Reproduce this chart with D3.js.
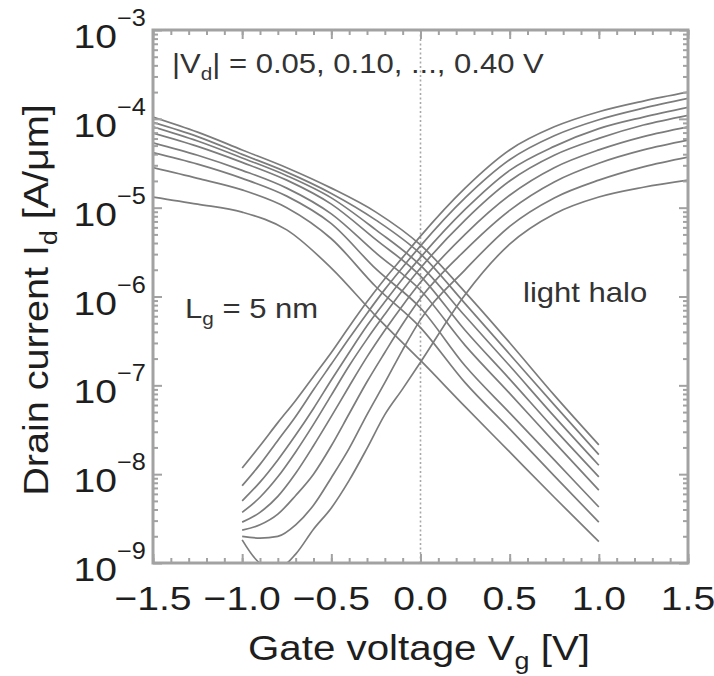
<!DOCTYPE html>
<html><head><meta charset="utf-8">
<script src="https://cdn.jsdelivr.net/npm/d3@7"></script>
<style>body{margin:0;background:#fff;} svg{display:block}</style>
</head><body>
<svg id="chart" width="714" height="676"></svg>
<script>
// Drain voltages |Vd| (V), same order as the curve arrays below
const vdValues = [0.40, 0.35, 0.30, 0.25, 0.20, 0.15, 0.10, 0.05];

// p-type branch (decreasing with Vg): gate voltages (V)
const pVg = [-1.5, -1.25, -1.0, -0.75, -0.5, -0.25, 0, 0.25, 0.5, 0.75, 1.0];
// log10 of drain current (A/um) for each Vd
const pLog10Id = [
  [-3.98, -4.15, -4.35, -4.55, -4.78, -5.05, -5.42, -5.95, -6.52, -7.11, -7.67],
  [-4.04, -4.20, -4.40, -4.60, -4.84, -5.14, -5.52, -6.08, -6.65, -7.22, -7.78],
  [-4.09, -4.25, -4.44, -4.64, -4.89, -5.25, -5.65, -6.22, -6.78, -7.35, -7.90],
  [-4.16, -4.31, -4.49, -4.69, -4.96, -5.36, -5.77, -6.38, -6.93, -7.49, -8.03],
  [-4.27, -4.41, -4.58, -4.78, -5.07, -5.51, -5.93, -6.55, -7.09, -7.64, -8.18],
  [-4.38, -4.51, -4.67, -4.87, -5.18, -5.69, -6.13, -6.78, -7.31, -7.84, -8.37],
  [-4.55, -4.67, -4.80, -5.00, -5.35, -5.89, -6.35, -6.97, -7.49, -8.02, -8.54],
  [-4.88, -4.96, -5.05, -5.25, -5.68, -6.22, -6.72, -7.24, -7.75, -8.26, -8.76]
];

// n-type branch (increasing with Vg): gate voltages (V)
const nVg = [-1.0, -0.9, -0.8, -0.7, -0.6, -0.5, -0.4, -0.3, -0.2, -0.1, 0, 0.25, 0.5, 0.75, 1.0, 1.25, 1.5];
const nLog10Id = [
  [-7.93, -7.68, -7.42, -7.17, -6.90, -6.63, -6.34, -6.06, -5.80, -5.56, -5.32, -4.78, -4.35, -4.09, -3.92, -3.80, -3.70],
  [-8.13, -7.89, -7.62, -7.35, -7.05, -6.76, -6.47, -6.19, -5.92, -5.67, -5.43, -4.89, -4.46, -4.19, -4.01, -3.88, -3.77],
  [-8.30, -8.09, -7.84, -7.56, -7.26, -6.94, -6.63, -6.33, -6.06, -5.80, -5.56, -5.02, -4.58, -4.31, -4.11, -3.98, -3.87],
  [-8.43, -8.26, -8.03, -7.75, -7.44, -7.11, -6.78, -6.48, -6.20, -5.93, -5.68, -5.14, -4.70, -4.41, -4.22, -4.07, -3.96],
  [-8.54, -8.43, -8.25, -7.99, -7.68, -7.35, -7.01, -6.68, -6.38, -6.10, -5.84, -5.30, -4.86, -4.55, -4.35, -4.20, -4.09],
  [-8.63, -8.57, -8.45, -8.24, -8.00, -7.68, -7.32, -6.96, -6.63, -6.31, -6.02, -5.48, -5.03, -4.71, -4.50, -4.35, -4.24],
  [-8.70, -8.72, -8.70, -8.57, -8.35, -8.04, -7.71, -7.33, -6.97, -6.60, -6.26, -5.70, -5.21, -4.89, -4.69, -4.54, -4.43],
  [-8.74, -9.00, -9.06, -8.90, -8.62, -8.38, -8.07, -7.71, -7.33, -7.04, -6.74, -5.98, -5.41, -5.07, -4.88, -4.77, -4.69]
];

const xTickValues = [-1.5, -1.0, -0.5, 0.0, 0.5, 1.0, 1.5];
const yTickExponents = [-9, -8, -7, -6, -5, -4, -3];

const svg = d3.select("#chart");
const m = {left: 153, top: 30, right: 688, bottom: 563};
const x = d3.scaleLinear().domain([-1.5, 1.5]).range([m.left, m.right]);
const y = d3.scaleLog().domain([1e-9, 1e-3]).range([m.bottom, m.top]);

const axisColor = "#a2a2a2";
const curveColor = "#7c7c7c";
const textColor = "#1e1e1e";
const FONT = "'Liberation Sans', Arial, Helvetica, sans-serif";

svg.append("clipPath").attr("id", "plotclip").append("rect")
  .attr("x", m.left).attr("y", m.top).attr("width", m.right - m.left).attr("height", m.bottom - m.top);

// dotted vertical line at Vg = 0
svg.append("line").attr("x1", x(0)).attr("x2", x(0)).attr("y1", m.top).attr("y2", m.bottom)
  .attr("stroke", "#a8a8a8").attr("stroke-width", 1.6).attr("stroke-dasharray", "2,2.5");

// curves
const line = d3.line().x(d => x(d[0])).y(d => y(Math.pow(10, d[1]))).curve(d3.curveMonotoneX);
const gCurves = svg.append("g").attr("clip-path", "url(#plotclip)");
pLog10Id.forEach((arr) => {
  gCurves.append("path").datum(pVg.map((v, i) => [v, arr[i]])).attr("d", line)
    .attr("fill", "none").attr("stroke", curveColor).attr("stroke-width", 1.7);
});
nLog10Id.forEach((arr) => {
  gCurves.append("path").datum(nVg.map((v, i) => [v, arr[i]])).attr("d", line)
    .attr("fill", "none").attr("stroke", curveColor).attr("stroke-width", 1.7);
});

// axes with inward ticks on all four sides
const xMinor = d3.range(-15, 16).map(i => i / 10);
const yMinor = [];
for (let e = -9; e < -3; e++) for (let k = 2; k <= 9; k++) yMinor.push(k * Math.pow(10, e));
const yMajor = yTickExponents.map(e => Math.pow(10, e));

const axG = svg.append("g");
function ax(axisFn, scale, vals, size, tr) {
  const a = axisFn(scale).tickValues(vals).tickSize(size).tickFormat("");
  const g = axG.append("g").attr("transform", tr).call(a);
  g.select(".domain").remove();
  g.selectAll("line").attr("stroke", axisColor).attr("stroke-width", 2);
}
ax(d3.axisTop, x, xMinor, 5, `translate(0,${m.bottom})`);
ax(d3.axisTop, x, xTickValues, 9, `translate(0,${m.bottom})`);
ax(d3.axisBottom, x, xMinor, 5, `translate(0,${m.top})`);
ax(d3.axisBottom, x, xTickValues, 9, `translate(0,${m.top})`);
ax(d3.axisRight, y, yMinor, 5, `translate(${m.left},0)`);
ax(d3.axisRight, y, yMajor, 9, `translate(${m.left},0)`);
ax(d3.axisLeft, y, yMinor, 5, `translate(${m.right},0)`);
ax(d3.axisLeft, y, yMajor, 9, `translate(${m.right},0)`);

// frame
svg.append("rect").attr("x", m.left).attr("y", m.top)
  .attr("width", m.right - m.left).attr("height", m.bottom - m.top)
  .attr("fill", "none").attr("stroke", axisColor).attr("stroke-width", 3);

// stretched text helper
function stext(px, py, size, anchor, sx, color) {
  const g = svg.append("g").attr("transform", `translate(${px},${py}) scale(${sx},1)`);
  return g.append("text").attr("x", 0).attr("y", 0).attr("text-anchor", anchor)
    .attr("font-family", FONT).attr("font-size", size).attr("fill", color || textColor);
}

// x tick labels
xTickValues.forEach(v => {
  const s = (v < 0 ? "\u2212" : "") + Math.abs(v).toFixed(1);
  stext(x(v), 610, 34, "middle", 1.15).text(s);
});
// y tick labels 10^e
yTickExponents.forEach(e => {
  const yy = y(Math.pow(10, e));
  stext(117, yy + 18, 34, "end", 1.15).text("10");
  stext(117, yy - 4, 23, "start", 1.1).text("\u2212" + Math.abs(e));
});

// axis titles
const xt = stext(419, 660, 36, "middle", 1.12);
xt.append("tspan").text("Gate voltage V");
xt.append("tspan").attr("font-size", 24).attr("dy", 9).text("g");
xt.append("tspan").attr("dy", -9).text(" [V]");

const ytG = svg.append("g").attr("transform", "translate(48,300) rotate(-90) scale(1.1,1)");
const yt = ytG.append("text").attr("text-anchor", "middle").attr("font-family", FONT)
  .attr("font-size", 36).attr("fill", textColor);
yt.append("tspan").text("Drain current I");
yt.append("tspan").attr("font-size", 24).attr("dy", 9).text("d");
yt.append("tspan").attr("dy", -9).text(" [A/\u03bcm]");

// annotations
const a1 = stext(172, 73, 27, "start", 1.15, "#333");
a1.append("tspan").text("|V");
a1.append("tspan").attr("font-size", 18).attr("dy", 7).text("d");
a1.append("tspan").attr("dy", -7).text("| = 0.05, 0.10, ..., 0.40 V");

const a2 = stext(185, 318, 27, "start", 1.15, "#333");
a2.append("tspan").text("L");
a2.append("tspan").attr("font-size", 18).attr("dy", 7).text("g");
a2.append("tspan").attr("dy", -7).text(" = 5 nm");

stext(523, 302, 27, "start", 1.15, "#333").text("light halo");
</script>
</body></html>
